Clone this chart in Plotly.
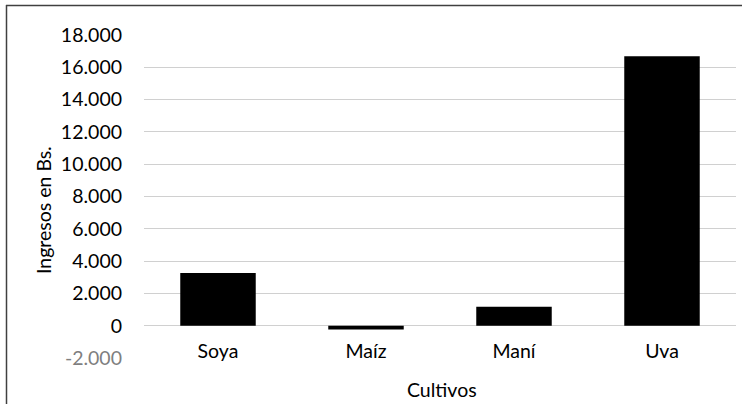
import plotly.graph_objects as go

# Data
cultivos = ["Soya", "Maíz", "Maní", "Uva"]
ingresos = [3260, -240, 1180, 16680]
y_ticks = [-2000, 0, 2000, 4000, 6000, 8000, 10000, 12000, 14000, 16000, 18000]
x_title = "Cultivos"
y_title = "Ingresos en Bs."

W, H = 742, 404
ML, MR, MT, MB = 144, 6, 35, 46
PW, PH = W - ML - MR, H - MT - MB

def px_x(p):
    return (p - ML) / PW

def px_y(p):
    return 1 - (p - MT) / PH

def fmt(v):
    s = f"{abs(v):,}".replace(",", ".")
    s = ("-" if v < 0 else "") + s
    if v < 0:
        return f"<span style='color:#7f7f7f'>{s}</span>"
    return s

FONT = "Lato"
FS = 19.5

fig = go.Figure(go.Bar(x=cultivos, y=ingresos, marker=dict(color="black", line=dict(width=0))))

ymin, ymax = y_ticks[0], y_ticks[-1]
zero_pos = (0 - ymin) / (ymax - ymin)

fig.update_layout(
    width=W, height=H,
    margin=dict(l=ML, r=MR, t=MT, b=MB, pad=0),
    paper_bgcolor="white", plot_bgcolor="white",
    bargap=0.49,
    showlegend=False,
    font=dict(family=FONT, size=FS, color="black"),
    xaxis=dict(
        anchor="free", position=zero_pos,
        showgrid=False, showline=False, zeroline=False,
        ticks="", tickfont=dict(family=FONT, size=FS, color="black"),
        ticklabelstandoff=12,
    ),
    yaxis=dict(
        range=[ymin, ymax],
        tickvals=y_ticks, ticktext=[fmt(v) for v in y_ticks],
        showgrid=True, gridcolor="#d0d0d0", gridwidth=1.3,
        zeroline=False, showline=False, ticks="",
        tickfont=dict(family=FONT, size=FS, color="black"),
        ticklabelstandoff=21,
    ),
    shapes=[
        dict(type="line", xref="paper", yref="paper",
             x0=px_x(6), x1=px_x(W), y0=px_y(5.5), y1=px_y(5.5),
             line=dict(color="#404040", width=1.5)),
        dict(type="line", xref="paper", yref="paper",
             x0=px_x(6.5), x1=px_x(6.5), y0=px_y(5), y1=px_y(H),
             line=dict(color="#404040", width=1.5)),
    ],
    annotations=[
        dict(text=y_title, xref="paper", yref="paper", x=px_x(43), y=px_y(210),
             showarrow=False, textangle=-90, xanchor="center", yanchor="middle",
             font=dict(family=FONT, size=FS, color="black")),
        dict(text=x_title, xref="paper", yref="paper", x=px_x(442), y=px_y(389),
             showarrow=False, xanchor="center", yanchor="middle",
             font=dict(family=FONT, size=FS, color="black")),
    ],
)

fig.write_html(
    "out.html",
    config={"displayModeBar": False},
    post_script="document.body.style.margin='0';document.body.style.padding='0';",
)
